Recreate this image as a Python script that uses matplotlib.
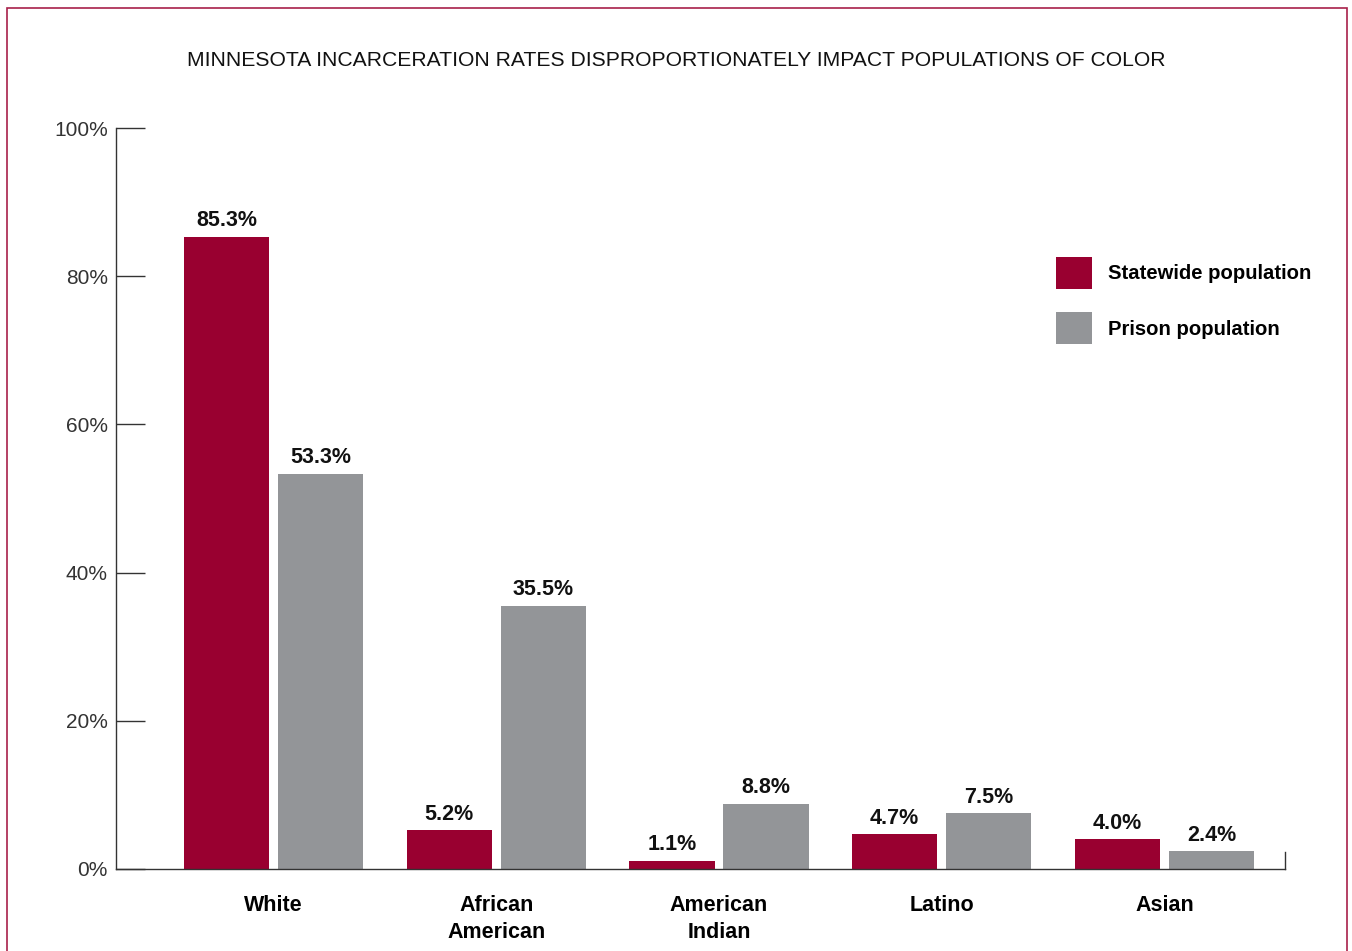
import numpy as np
import matplotlib
matplotlib.use("Agg")
import matplotlib.pyplot as plt
from matplotlib.patches import Rectangle

plt.rcParams.update({
    "font.family": ["Liberation Sans", "DejaVu Sans"],
    "axes.linewidth": 1.0,
})

RED, GRY = "#990030", "#939598"

categories = ["White", "African\nAmerican", "American\nIndian", "Latino", "Asian"]
statewide = [85.3, 5.2, 1.1, 4.7, 4.0]
prison = [53.3, 35.5, 8.8, 7.5, 2.4]
yticks = [0, 20, 40, 60, 80, 100]
ytick_labels = ["0%", "20%", "40%", "60%", "80%", "100%"]
title = "MINNESOTA INCARCERATION RATES DISPROPORTIONATELY IMPACT POPULATIONS OF COLOR"

W, H = 1352, 951
fig = plt.figure(figsize=(W / 100, H / 100), dpi=100)

# frame round the whole graphic (bottom edge falls outside the image)
fig.patches.append(Rectangle((7 / W, -0.05), (1347 - 7) / W, 1.05 - 8 / H,
                             transform=fig.transFigure, fill=False,
                             edgecolor="#a8204a", lw=1.2))

ax = fig.add_axes([116 / W, (H - 869) / H, (1285 - 116) / W, (869 - 128) / H])

x = np.arange(len(categories))
bw, off = 0.382, 0.211
b1 = ax.bar(x - off, statewide, bw, color=RED, label="Statewide population")
b2 = ax.bar(x + off, prison, bw, color=GRY, label="Prison population")

for bars, vals in ((b1, statewide), (b2, prison)):
    for r, v in zip(bars, vals):
        ax.annotate(f"{v:.1f}%", (r.get_x() + r.get_width() / 2, v),
                    xytext=(0, 4), textcoords="offset points",
                    ha="center", va="bottom", fontsize=15.5, fontweight="bold",
                    color="#111111")

ax.set_xlim(-0.707, 4.541)
ax.set_ylim(0, 100)

ax.spines["top"].set_visible(False)
ax.spines["right"].set_bounds(0, 2.3)
for s in ("left", "bottom", "right"):
    ax.spines[s].set_color("#333333")

ax.set_yticks(yticks)
ax.set_yticklabels(ytick_labels)
ax.tick_params(axis="y", direction="in", length=21, width=1.0, color="#333333",
               pad=6, labelsize=15, labelcolor="#333333")
ax.set_xticks(x)
ax.set_xticklabels(categories, fontsize=15.5, fontweight="bold", linespacing=1.33)
ax.tick_params(axis="x", length=0, pad=19)

ax.legend(loc="upper left", bbox_to_anchor=(1056 / W, 1 - 257 / H),
          bbox_transform=fig.transFigure, frameon=False,
          prop={"weight": "bold", "size": 14.6}, handlelength=1.76,
          handleheight=2.05, handletextpad=0.82, labelspacing=1.15,
          borderaxespad=0, borderpad=0)

fig.text(0.5, 1 - 61 / H, title, ha="center", va="center", fontsize=15.2,
         color="#111111")

fig.savefig("out.png", dpi=100)
